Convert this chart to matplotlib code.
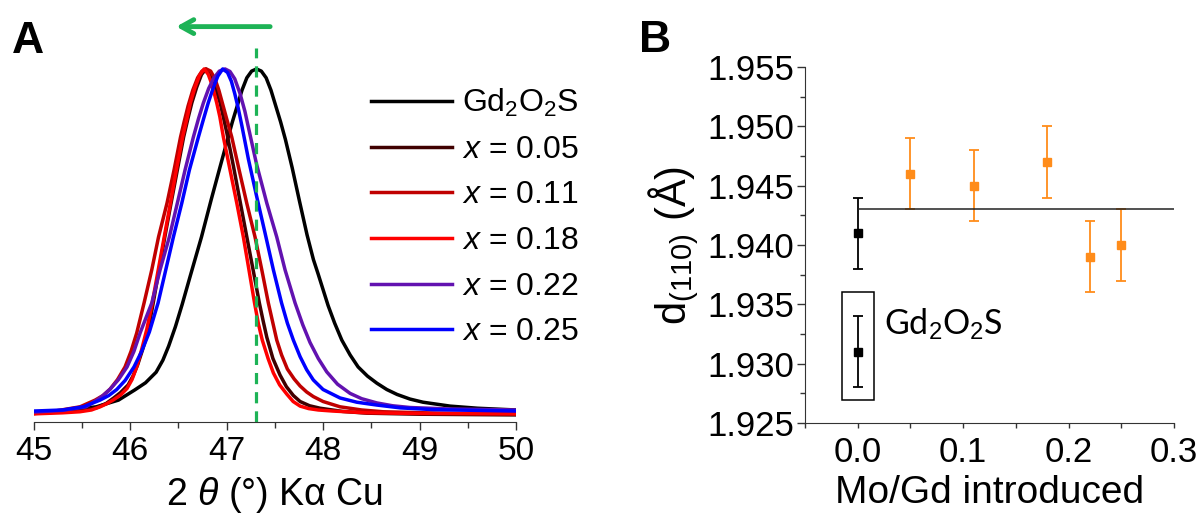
import matplotlib.pyplot as plt
from matplotlib.patches import Rectangle
from matplotlib.ticker import MultipleLocator, FormatStrFormatter

plt.rcParams['font.family'] = ['Liberation Sans', 'DejaVu Sans']
plt.rcParams['mathtext.fontset'] = 'custom'
plt.rcParams['mathtext.rm'] = 'Liberation Sans'
plt.rcParams['mathtext.it'] = 'Liberation Sans:italic'

# ---- panel A: (110) reflection, normalised intensity ----
tt_gos = [45.0, 45.3, 45.65, 45.88, 46.05, 46.16, 46.27, 46.34, 46.40, 46.47, 46.54, 46.62,
          46.74, 46.84, 46.93, 47.01, 47.06, 47.11, 47.16, 47.21, 47.26, 47.31, 47.36, 47.41,
          47.46, 47.51, 47.56, 47.61, 47.68, 47.756, 47.834, 47.90, 47.948, 48.052, 48.12,
          48.194, 48.28, 48.363, 48.46, 48.557, 48.66, 48.767, 48.9, 49.036, 49.316, 49.6, 50.0]
int_gos = [0.026, 0.031, 0.043, 0.062, 0.091, 0.111, 0.141, 0.175, 0.215, 0.27, 0.333, 0.41,
           0.524, 0.629, 0.72, 0.80, 0.85, 0.895, 0.94, 0.975, 0.994, 1.0, 0.994, 0.975,
           0.94, 0.895, 0.85, 0.80, 0.72, 0.625, 0.53, 0.46, 0.42, 0.33, 0.28,
           0.232, 0.19, 0.156, 0.13, 0.110, 0.092, 0.078, 0.065, 0.056, 0.045, 0.039, 0.034]

tt_005 = [45.0, 45.3, 45.5, 45.65, 45.75, 45.83, 45.9, 45.98, 46.03, 46.08, 46.13, 46.185,
          46.24, 46.30, 46.36, 46.425, 46.49, 46.555, 46.60, 46.64, 46.69, 46.74, 46.785,
          46.83, 46.875, 46.933, 46.97, 47.002, 47.071, 47.14, 47.21, 47.275, 47.34, 47.38,
          47.417, 47.48, 47.554, 47.62, 47.692, 47.762, 47.86, 47.969, 48.2, 48.453, 49.0, 50.0]
int_005 = [0.024, 0.029, 0.033, 0.040, 0.052, 0.068, 0.083, 0.105, 0.13, 0.163, 0.205, 0.255,
           0.337, 0.431, 0.524, 0.620, 0.714, 0.807, 0.86, 0.904, 0.948, 0.984, 1.0,
           0.986, 0.956, 0.904, 0.86, 0.82, 0.725, 0.625, 0.524, 0.431, 0.337, 0.285,
           0.24, 0.18, 0.133, 0.10, 0.075, 0.058, 0.046, 0.039, 0.030, 0.025, 0.022, 0.020]

tt_011 = [45.0, 45.223, 45.482, 45.638, 45.72, 45.793, 45.87, 45.948, 46.01, 46.069, 46.145,
          46.225, 46.295, 46.383, 46.456, 46.523, 46.56, 46.601, 46.65, 46.70, 46.745, 46.79,
          46.835, 46.88, 46.92, 46.95, 47.0, 47.054, 47.13, 47.209, 47.295, 47.365, 47.433,
          47.52, 47.57, 47.63, 47.70, 47.762, 47.83, 47.899, 48.0, 48.176, 48.4, 48.622, 49.2, 50.0]
int_011 = [0.024, 0.031, 0.043, 0.062, 0.075, 0.093, 0.12, 0.156, 0.20, 0.252, 0.337,
           0.431, 0.524, 0.620, 0.714, 0.807, 0.85, 0.895, 0.94, 0.975, 0.994, 1.0,
           0.994, 0.972, 0.94, 0.91, 0.86, 0.807, 0.714, 0.620, 0.524, 0.431, 0.337,
           0.232, 0.19, 0.15, 0.122, 0.102, 0.085, 0.072, 0.058, 0.043, 0.034, 0.029, 0.025, 0.023]

tt_018 = [45.0, 45.3, 45.48, 45.6, 45.69, 45.76, 45.824, 45.9, 45.969, 46.02, 46.069, 46.12,
          46.173, 46.23, 46.292, 46.354, 46.418, 46.48, 46.545, 46.59, 46.625, 46.67, 46.72,
          46.767, 46.81, 46.85, 46.898, 46.93, 46.967, 47.036, 47.106, 47.174, 47.232, 47.29,
          47.33, 47.37, 47.43, 47.485, 47.55, 47.624, 47.69, 47.762, 47.85, 47.95, 48.1,
          48.453, 49.0, 50.0]
int_018 = [0.023, 0.026, 0.029, 0.034, 0.043, 0.052, 0.062, 0.076, 0.095, 0.12, 0.156, 0.205,
           0.262, 0.337, 0.431, 0.524, 0.620, 0.714, 0.807, 0.86, 0.904, 0.945, 0.982,
           1.0, 0.985, 0.955, 0.904, 0.865, 0.807, 0.714, 0.620, 0.524, 0.431, 0.337,
           0.278, 0.232, 0.18, 0.139, 0.105, 0.079, 0.058, 0.045, 0.038, 0.034, 0.031,
           0.026, 0.024, 0.023]

tt_022 = [45.0, 45.3, 45.544, 45.655, 45.72, 45.793, 45.88, 45.969, 46.04, 46.104, 46.165,
          46.225, 46.311, 46.407, 46.49, 46.57, 46.656, 46.71, 46.76, 46.815, 46.87, 46.925,
          46.985, 47.035, 47.085, 47.14, 47.19, 47.226, 47.311, 47.417, 47.52, 47.606, 47.71,
          47.79, 47.865, 47.95, 48.038, 48.15, 48.28, 48.4, 48.557, 48.72, 48.902, 49.3, 50.0]
int_022 = [0.028, 0.033, 0.043, 0.062, 0.075, 0.093, 0.12, 0.156, 0.20, 0.252, 0.295,
           0.337, 0.431, 0.524, 0.620, 0.714, 0.807, 0.86, 0.904, 0.945, 0.975, 0.994,
           1.0, 0.993, 0.972, 0.93, 0.88, 0.835, 0.73, 0.620, 0.524, 0.431, 0.337,
           0.275, 0.225, 0.18, 0.142, 0.107, 0.081, 0.066, 0.054, 0.046, 0.041, 0.037, 0.034]

tt_025 = [45.0, 45.3, 45.516, 45.689, 45.78, 45.862, 45.95, 46.041, 46.12, 46.20, 46.29,
          46.37, 46.449, 46.536, 46.615, 46.708, 46.76, 46.81, 46.86, 46.91, 46.96, 47.01,
          47.05, 47.085, 47.12, 47.158, 47.226, 47.311, 47.399, 47.485, 47.57, 47.63, 47.692,
          47.762, 47.83, 47.899, 48.0, 48.176, 48.35, 48.557, 48.8, 49.14, 50.0]
int_025 = [0.031, 0.034, 0.043, 0.062, 0.075, 0.092, 0.118, 0.156, 0.20, 0.255, 0.337,
           0.431, 0.524, 0.620, 0.714, 0.807, 0.857, 0.904, 0.945, 0.98, 1.0, 0.99,
           0.965, 0.93, 0.89, 0.84, 0.745, 0.640, 0.535, 0.431, 0.337, 0.28, 0.232,
           0.185, 0.148, 0.119, 0.092, 0.068, 0.056, 0.048, 0.040, 0.035, 0.031]

series_a = [(tt_gos, int_gos), (tt_005, int_005), (tt_011, int_011),
            (tt_018, int_018), (tt_022, int_022), (tt_025, int_025)]
labels_a = ['Gd$_2$O$_2$S', '$x$ = 0.05', '$x$ = 0.11', '$x$ = 0.18', '$x$ = 0.22', '$x$ = 0.25']
colors_a = ['#000000', '#400000', '#c00000', '#ff0000', '#6212b0', '#0000ff']
peak_gos = 47.31

# ---- panel B: d(110) vs Mo/Gd ----
mo_gd = [0.05, 0.11, 0.18, 0.22, 0.25]
d110 = [1.946, 1.945, 1.947, 1.939, 1.940]
d110_err = [0.003, 0.003, 0.003, 0.003, 0.003]
x_ref = [0.0]
d_ref = [1.941]
d_ref_err = [0.003]
d_gos = [1.931]
d_gos_err = [0.003]
d_mean = 1.943

green = '#1db356'
orange = '#ff8c1a'

fig = plt.figure(figsize=(11.98, 5.15), dpi=100)

# panel A
ax = fig.add_axes([0.028, 0.1806, 0.4028, 0.7806])
for (xs, ys), lab, col in zip(series_a, labels_a, colors_a):
    ax.plot(xs, ys, color=col, lw=2.5, label=lab, solid_joinstyle='round')
ax.plot([peak_gos, peak_gos], [0, 1.06], color=green, lw=2.3, ls=(0, (3.5, 2.5)), clip_on=False)
ax.annotate('', xy=(46.45, 1.12), xytext=(47.48, 1.12), annotation_clip=False,
            arrowprops=dict(arrowstyle='->,head_length=0.9,head_width=0.5', lw=3.5, color=green))
ax.set_xlim(45, 50)
ax.set_ylim(0, 1.1388)
for s in ['left', 'right', 'top']:
    ax.spines[s].set_visible(False)
ax.spines['bottom'].set_color('#333333')
ax.set_yticks([])
ax.xaxis.set_major_locator(MultipleLocator(1))
ax.xaxis.set_minor_locator(MultipleLocator(0.5))
ax.tick_params(axis='x', which='major', length=6, width=1, color='#333333', labelsize=24, pad=4)
ax.tick_params(axis='x', which='minor', length=4, width=1, color='#333333')
ax.set_xlabel('2 $\\theta$ (°) Kα Cu', fontsize=27, labelpad=6)
ax.legend(loc='upper left', bbox_to_anchor=(371 / 1198, 1 - 87 / 515), bbox_transform=fig.transFigure,
          frameon=False, fontsize=23, handlelength=2.54, handletextpad=0.31, labelspacing=0.49,
          borderpad=0, borderaxespad=0)

# panel B
ax2 = fig.add_axes([805 / 1198, 1 - 423 / 515, 369 / 1198, 356 / 515])
ax2.errorbar(mo_gd, d110, yerr=d110_err, fmt='s', color=orange, ms=6, capsize=3.5,
             elinewidth=1.3, capthick=1.3)
ax2.errorbar(x_ref, d_ref, yerr=d_ref_err, fmt='s', color='k', ms=6, capsize=3.5,
             elinewidth=1.3, capthick=1.3)
ax2.errorbar(x_ref, d_gos, yerr=d_gos_err, fmt='s', color='k', ms=6, capsize=3.5,
             elinewidth=1.3, capthick=1.3)
ax2.hlines(d_mean, 0, 0.3, color='#222222', lw=1.1)
ax2.add_patch(Rectangle((-0.0153, 1.9269), 0.031, 0.0091, fill=False, lw=1.1, ec='k'))
ax2.text(0.025, 1.9333, 'Gd$_2$O$_2$S', fontsize=24.5, family=['Lato', 'DejaVu Sans'], va='center')
ax2.set_xlim(-0.05, 0.3)
ax2.set_ylim(1.925, 1.955)
for s in ['right', 'top']:
    ax2.spines[s].set_visible(False)
for s in ['left', 'bottom']:
    ax2.spines[s].set_color('#333333')
ax2.xaxis.set_major_locator(MultipleLocator(0.1))
ax2.xaxis.set_minor_locator(MultipleLocator(0.05))
ax2.yaxis.set_major_locator(MultipleLocator(0.005))
ax2.yaxis.set_minor_locator(MultipleLocator(0.0025))
ax2.xaxis.set_major_formatter(FormatStrFormatter('%.1f'))
ax2.yaxis.set_major_formatter(FormatStrFormatter('%.3f'))
ax2.tick_params(which='both', color='#333333', width=1, labelsize=25)
ax2.tick_params(axis='y', which='major', length=6, pad=2)
ax2.tick_params(axis='y', which='minor', length=3.5)
ax2.tick_params(axis='x', which='both', length=3.5, pad=5.5)
ax2.set_xlabel('Mo/Gd introduced', fontsize=28, labelpad=5)
ax2.set_ylabel('d$_{(110)}$ (Å)', fontsize=30, labelpad=4)

fig.text(12 / 1198, 1 - 53 / 515, 'A', fontsize=32, weight='bold')
fig.text(639 / 1198, 1 - 52 / 515, 'B', fontsize=32, weight='bold')

fig.savefig('out.png', dpi=100)
